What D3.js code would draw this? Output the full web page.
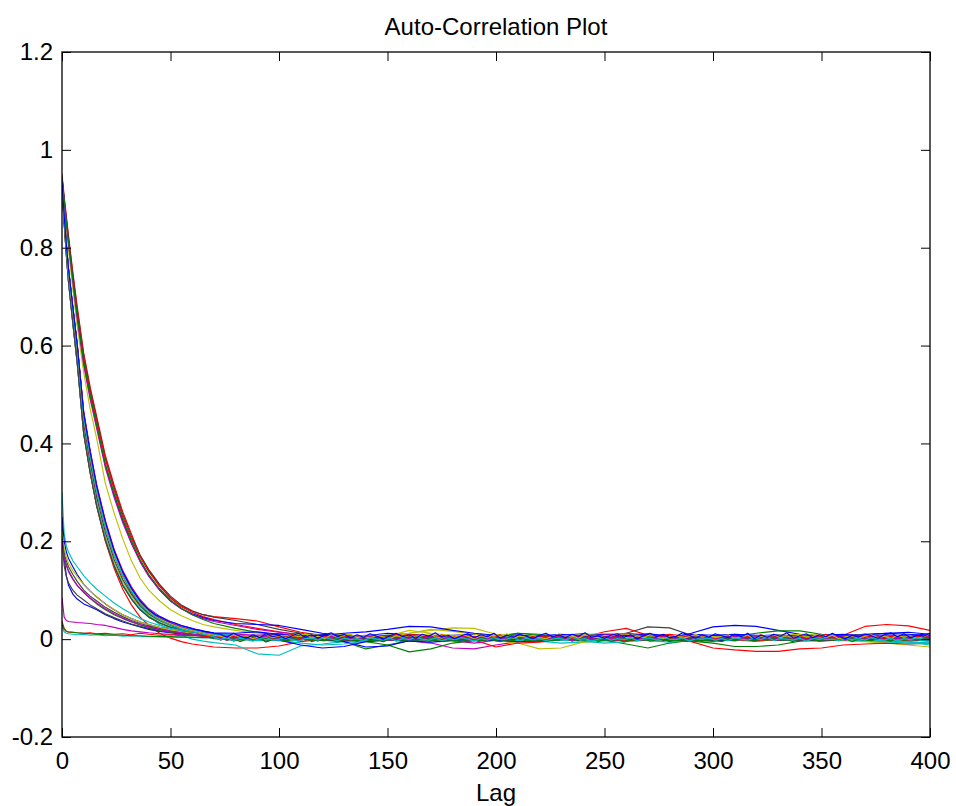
<!DOCTYPE html>
<html>
<head>
<meta charset="utf-8">
<script src="https://cdn.jsdelivr.net/npm/d3@7"></script>
<style>
  body { margin: 0; background: #ffffff; }
  text { font-family: "Liberation Sans", Arial, Helvetica, sans-serif; }
</style>
</head>
<body>
<svg id="chart" width="956" height="806"></svg>
<script>
// ---------------- DATA (values in thousandths of correlation) ----------------
const lags = [0,1,2,3,5,7,10,13,16,20,24,28,32,36,40,45,50,55,60,65,70,
  80,90,100,110,120,130,140,150,160,170,180,190,200,210,220,230,240,250,260,270,280,290,300,310,320,330,340,350,360,370,380,390,400];

// finer lag grid used by the noisy chains in the central band
const fineLags = [0,1,2,3,5,7,10,13,16,20,24,28,32,36,
  40,43,46,49,52,55,58,61,64,67,70,
  73,76,79,82,85,88,91,94,97,100,103,106,109,112,115,118,121,124,127,130,
  133,136,139,142,145,148,151,154,157,160,163,166,169,172,175,178,181,184,187,190,
  193,196,199,202,205,208,211,214,217,220,223,226,229,232,235,238,241,244,247,250,
  253,256,259,262,265,268,271,274,277,280,283,286,289,292,295,298,301,304,307,310,
  313,316,319,322,325,328,331,334,337,340,343,346,349,352,355,358,361,364,367,370,
  373,376,379,382,385,388,391,394,397,400];

const xTickValues = [0,50,100,150,200,250,300,350,400];
const xTickLabels = ["0","50","100","150","200","250","300","350","400"];
const yTickValues = [-0.2,0,0.2,0.4,0.6,0.8,1,1.2];
const yTickLabels = ["-0.2","0","0.2","0.4","0.6","0.8","1","1.2"];

// slowly decaying chains
const slowSeries = [
  [950,905,865,825,750,680,585,515,455,375,315,260,215,170,140,110,85,68,57,50,46, 42,37,25,14,8,5,3,6,8,5,2,0,-2,1,4,6,3,0,-3,-1,2,5,3,-2,-4,-1,2,5,8,26,30,27,18],
  [945,900,860,820,745,675,580,510,450,370,310,255,210,172,142,112,88,70,58,50,45, 38,30,20,12,8,6,4,3,5,7,6,4,2,0,1,3,5,8,12,25,23,8,3,1,0,2,4,5,6,4,3,5,4],
  [940,895,855,815,740,670,575,505,445,368,305,250,205,168,138,108,84,66,55,46,40, 30,22,15,8,4,2,0,-2,0,3,5,2,-3,-5,-2,1,3,15,22,8,4,2,-1,-3,0,2,4,6,5,3,1,0,2],
  [945,895,850,810,735,660,565,495,435,355,295,242,198,160,130,100,78,62,52,44,38, 32,30,28,20,12,8,6,8,10,7,5,3,6,4,2,5,8,10,6,3,1,12,25,28,26,18,10,6,8,10,7,5,8],
  [935,885,840,795,715,640,545,470,410,318,258,205,160,125,100,78,60,48,38,30,25, 18,12,8,5,3,2,5,8,12,18,23,22,10,5,2,0,-3,-1,2,4,3,1,-2,0,3,5,2,0,-3,-5,-8,-12,-16],
  [940,890,848,808,730,655,560,490,430,350,290,238,195,158,128,100,78,62,50,42,36, 28,20,14,10,6,4,2,0,-3,-8,-18,-20,-12,-5,0,3,5,8,6,4,2,0,-2,-1,2,4,3,1,0,2,4,6,4],
  [942,895,852,812,735,660,567,497,437,358,298,245,200,162,132,103,80,63,50,40,32, 22,14,8,4,0,-3,-5,-12,-26,-20,-8,-3,0,2,4,3,0,-3,-2,1,3,0,2,6,12,17,17,10,5,2,0,-2,0]
];
const slowColors = ["r","k","r","b","y","m","g"];

// main bundle
const bulkSeries = [
  [930,862,802,752,672,597,455,375,305,232,175,132,100,75,57,42,31,24,18,12,8, 5,8,3,6,10,4,7,12,9,5,8,10,6,9,4,8,11,7,5,9,6,10,8,4,7,9,5,8,10,6,9,7,11],
  [925,850,785,730,645,565,420,340,272,202,150,110,82,60,45,33,24,18,12,8,5, 2,0,-3,-1,2,-5,-20,-12,-3,-1,2,0,-2,-1,-3,0,2,-2,-10,-18,-8,-2,0,1,3,0,-2,-4,-1,2,0,3,1],
  [925,850,785,730,645,565,420,340,272,200,145,102,70,45,28,12,2,-5,-10,-13,-16, -18,-18,-14,-5,0,3,5,2,-1,0,3,-1,-2,-5,-3,0,2,-1,1,4,2,-5,-18,-22,-25,-25,-20,-18,-12,-10,-8,-10,-8],
  [930,865,805,755,675,600,458,378,308,235,176,130,95,68,48,30,18,8,0,-4,-7, -12,-30,-33,-14,-10,-5,-2,0,3,1,-2,0,2,-1,-4,-8,-6,-2,0,-3,-6,-2,0,2,4,1,-2,0,3,1,-4,-10,-8],
  [932,864,805,755,676,600,460,380,310,236,178,135,102,77,59,44,32,24,18,13,9, 6,4,8,3,0,5,8,4,2,6,3,1,4,2,-2,0,3,6,10,8,4,2,0,3,5,2,-1,2,4,6,3,1,4],
  [928,852,788,735,650,570,428,348,280,210,158,118,88,66,50,37,27,20,15,11,7, 3,8,5,2,6,10,4,6,18,12,8,4,-3,-8,-20,-18,-6,-4,0,3,6,4,2,0,-3,-2,1,3,5,2,0,-2,-4],
  [930,860,800,750,670,595,452,372,302,230,173,130,98,73,55,40,29,22,16,11,6, 2,4,1,-1,3,5,2,0,2,4,1,3,0,-2,1,3,5,2,0,3,2,-1,1,3,0,-2,1,4,2,0,3,1,2],
  [932,864,805,755,676,600,460,380,310,236,178,135,102,77,59,44,33,25,19,14,10, 8,5,10,4,-2,-5,-16,-14,-3,2,5,3,0,4,2,6,3,1,5,8,6,2,0,3,5,2,0,4,7,10,12,14,10],
  [930,863,803,753,673,598,456,376,306,233,176,133,101,76,58,43,32,24,17,11,6, 4,2,6,3,0,2,5,8,4,2,0,3,6,12,10,4,2,0,3,1,-2,-4,-8,-15,-15,-12,-4,-2,0,3,5,4,2],
  [930,862,802,752,672,597,455,375,305,232,175,132,100,75,57,42,31,24,17,10,5, 3,6,2,8,5,1,4,7,10,6,3,-2,-16,-8,-6,0,3,6,8,5,10,4,2,-1,3,5,2,-2,0,4,6,3,1],
  [926,851,786,732,648,568,424,344,276,206,152,112,84,62,47,34,25,19,14,9,4, 0,-3,-2,-8,-12,-10,-4,-2,1,3,0,-2,2,4,1,-1,-4,-8,-5,-2,0,2,-1,-3,0,3,5,2,-1,-3,-5,-4,-10],
  [933,866,807,758,680,604,466,386,316,242,184,140,107,81,62,47,36,28,22,16,12, 10,8,12,6,3,5,2,-1,3,6,-3,-8,-2,2,5,3,6,8,12,9,5,3,6,8,4,2,5,3,1,4,6,8,5],
  [931,863,803,753,673,598,457,377,307,234,177,134,102,77,59,44,33,25,19,13,8, 5,2,7,10,8,4,6,3,12,20,16,10,5,3,1,4,7,5,2,0,3,6,4,2,5,8,6,3,7,9,5,2,0],
  [925,850,785,730,645,565,420,340,272,202,150,110,82,60,45,33,24,18,12,6,1, -2,0,3,1,-3,-1,2,0,-2,1,3,0,-3,-1,2,4,1,-2,0,2,-1,-3,0,2,4,1,-1,-3,0,2,1,-1,0],
  [930,862,802,752,672,597,455,375,305,232,175,132,100,75,57,42,33,26,21,16,13, 12,15,10,6,8,12,15,20,26,25,18,12,8,5,7,10,6,4,8,11,7,5,8,10,8,6,9,8,6,9,12,10,7],
  [931,863,804,754,674,599,458,378,308,235,178,135,103,78,60,45,34,26,20,13,8, 6,3,0,2,5,3,-1,2,4,1,-2,0,3,5,2,-1,-3,0,2,4,1,-2,0,3,6,4,1,0,2,-2,-5,-8,-6]
];
const bulkColors = ["b","g","r","c","m","y","k","b","g","r","c","m","y","k","b","c"];

// chains starting low
const lowSeries = [
  [300,215,190,178,160,148,130,115,102,88,74,62,52,42,35,28,22,18,14,12,10, 8,6,4,2,-1,0,3,1,-2,0,2,-1,1,3,0,-2,-1,1,3,2,0,-2,1,3,2,0,-1,1,3,0,-2,-6,-12],
  [250,200,178,165,148,132,112,98,86,72,60,50,42,35,30,24,19,15,12,10,8, 6,4,2,5,8,6,3,1,4,7,5,2,0,3,6,4,2,5,8,5,3,1,4,6,3,0,2,5,7,4,2,5,3],
  [230,165,130,110,92,82,72,66,60,50,42,35,30,25,20,16,13,10,8,6,5, 3,1,-2,-12,-18,-15,-5,-2,-4,-6,-3,0,-2,-5,-3,0,2,-1,-3,0,2,-2,-4,-1,1,-2,0,3,1,-1,2,0,-2],
  [215,175,160,148,132,118,100,88,78,65,55,46,38,32,27,22,17,14,11,9,7, 5,3,1,4,2,0,3,1,-1,2,4,1,0,-2,1,3,0,-1,2,4,2,0,3,1,-1,2,0,3,5,2,0,1,3],
  [205,150,128,115,100,90,80,70,62,52,44,37,31,26,22,17,14,11,9,7,6, 4,1,-1,2,0,-3,-1,2,0,-2,1,3,0,-2,-4,-1,1,-1,-3,0,2,0,-2,1,3,0,-2,-1,1,3,0,-2,1],
  [220,185,168,155,140,128,112,98,86,72,60,50,42,35,30,24,19,15,12,10,8, 6,3,8,5,2,4,7,3,5,9,6,4,8,5,3,6,9,12,10,6,4,7,5,3,6,8,10,8,5,3,6,4,2],
  [210,170,152,140,124,110,95,83,72,60,50,42,35,29,24,19,15,12,10,8,6, 4,6,2,-1,3,5,1,-2,0,4,2,-1,3,12,8,3,1,-2,0,4,2,0,3,1,-2,0,3,5,2,-1,1,3,0],
  [200,165,150,138,122,110,96,84,74,62,52,43,36,30,25,20,16,13,10,8,7, 5,2,0,3,6,4,1,-2,0,3,5,2,-1,1,4,2,-1,3,5,8,4,2,0,3,1,-2,0,4,6,3,1,-1,2]
];
const lowColors = ["c","b","b","k","k","y","g","m"];

// chains that are nearly uncorrelated from the start
const flatSeries = [
  [85,45,38,36,35,34,33,32,30,28,24,20,17,15,13,11,10,9,8,7,6, 3,1,4,2,0,3,5,2,-1,1,4,6,3,0,2,5,3,1,4,2,-1,1,3,5,2,0,-2,1,3,6,4,2,5],
  [36,22,16,14,14,13,12,13,11,12,10,11,9,12,10,8,9,7,8,6,5, 2,4,1,-1,2,0,3,5,2,-1,1,3,0,-2,1,4,2,0,-3,-1,2,4,1,-1,-3,0,2,-1,1,3,0,-2,1],
  [25,15,12,11,10,9,10,8,9,7,8,6,7,6,5,5,4,4,3,3,3, 2,0,-2,1,3,0,-1,2,4,1,-1,2,0,-3,-1,2,0,-2,1,3,0,-2,1,3,5,2,0,-1,1,3,0,-1,-4],
  [30,20,16,15,14,13,12,11,10,9,9,8,7,7,6,5,5,4,4,3,3, 3,1,4,2,-1,1,3,5,2,0,-2,1,3,0,2,4,1,-1,2,0,-2,-4,-1,1,3,0,2,4,1,-1,2,4,2]
];
const flatColors = ["m","r","c","g"];

// noisy chains forming the dense band (on fineLags)
const noisySeries = [
  [928,856,795,743,662,585,440,360,290,218,163,122,92,68,
   52,43,36,31,25,21,17,14,11,8,6,
   -2,3,-4,1,5,-1,2,-5,0,4, -3,2,6,-2,1,-4,3,0,-1,5, 1,-3,4,-1,2,-5,0,3,-2,4, -1,5,0,-3,2,-2,4,1,-4,2,
   3,-2,1,5,-3,0,4,-1,2,-4, 0,3,-2,4,1,-3,5,-1,2,0, -4,2,6,-1,3,-2,0,4,-3,1, 5,-2,2,0,-4,3,1,-1,4,-2,
   0,5,-3,2,-1,4,-2,1,3,-4, 2,0,4,-2,1,-3,5,0,-1,3, -2,4,1,-3,2,0,5,-1,3,1],
  [931,864,804,754,674,599,458,378,308,236,178,134,101,76,
   58,47,40,33,28,23,19,15,12,9,6,
   3,-2,1,-5,0,-3,2,-6,-1,1, -4,0,-2,3,-5,-1,-3,1,-6,-2, 0,-4,2,-3,-1,-5,1,-2,-4,0, -2,2,-5,-1,-3,1,-4,0,-6,-1,
   -3,1,-2,-5,0,-3,2,-4,-1,-2, 1,-3,-1,2,-4,0,-2,3,-5,-1, -2,0,-6,-1,-3,1,-4,-2,0,-5, -1,2,-3,0,-4,1,-2,-5,0,-3,
   2,-1,-4,0,-2,3,-3,-1,-5,1, -2,0,-4,2,-1,-3,1,-5,0,-2, -3,1,-1,-4,2,-2,0,-3,1,-1],
  [929,858,798,748,667,592,450,370,300,228,171,129,97,72,
   55,46,38,32,27,22,18,15,12,9,7,
   5,1,7,3,8,0,4,9,2,6, 3,10,1,5,8,2,6,0,7,4, 9,2,5,1,8,3,6,10,2,5, 0,4,7,2,9,3,6,1,8,4,
   2,7,3,9,1,5,8,0,6,3, 7,2,10,4,1,6,3,8,2,5, 9,3,6,0,4,8,2,7,4,1, 6,3,9,2,5,7,1,4,8,3,
   0,6,2,9,4,7,1,5,3,8, 2,6,4,10,1,5,3,7,2,6, 4,8,1,6,3,9,2,5,7,3],
  [932,865,806,756,677,602,462,383,313,240,182,138,105,79,
   60,49,42,35,30,25,20,16,13,10,7,
   2,-2,4,0,5,-1,3,6,-2,1, 4,0,-3,3,1,6,-1,2,5,-2, 1,4,-1,3,7,0,2,-2,5,1, 3,-1,6,2,-2,4,0,5,1,-1,
   5,2,-1,3,0,6,-2,4,2,0, -1,3,5,1,-3,2,4,0,6,1, 2,-2,4,1,5,-1,3,0,2,6, 0,4,-2,3,1,5,-1,2,4,0,
   3,-1,5,2,0,4,-2,6,1,3, -1,2,4,0,5,1,-2,3,6,0, 2,5,-1,3,1,4,0,-2,3,5],
  [930,861,801,751,671,596,454,374,304,231,174,131,99,74,
   56,46,39,33,28,23,19,16,13,10,8,
   6,2,9,4,7,1,5,10,3,7, 2,8,5,11,3,6,1,9,4,7, 10,3,6,2,8,5,1,7,4,9, 3,7,12,5,2,8,4,10,6,1,
   7,3,9,5,11,2,6,4,8,3, 1,6,10,4,7,2,9,5,3,8, 6,11,4,2,7,3,9,5,1,6, 8,2,5,10,4,7,3,6,9,2,
   5,8,1,6,4,10,3,7,2,9, 4,6,11,3,8,1,5,7,2,6, 9,3,6,1,8,4,7,2,5,10],
  [929,859,799,749,669,594,452,372,302,229,172,130,98,73,
   54,45,37,31,26,21,17,14,11,8,5,
   -1,3,-3,2,0,-4,1,4,-2,0, 3,-1,-4,1,2,-2,4,0,-3,2, -1,1,-3,3,0,-2,2,-4,1,-1, 4,0,-2,2,-3,1,-1,3,0,-4,
   1,-2,3,-1,0,4,-3,2,-1,1, -3,0,2,-2,4,-1,1,-4,0,3, -2,1,-1,3,-3,0,2,-2,4,0, -1,3,-4,1,0,2,-2,1,-3,3,
   0,-2,2,-1,4,-3,1,0,-2,2, -4,1,3,-1,0,-3,2,-1,1,-2, 3,0,-2,2,-4,1,-1,3,0,-1],
  [933,866,806,757,678,603,462,382,312,239,181,137,104,78,
   60,50,44,37,33,28,24,20,18,15,12,
   10,4,12,6,2,9,3,11,5,8, 1,7,12,4,9,2,8,13,5,10, 3,9,4,11,6,0,7,12,5,9, 2,10,6,13,4,8,1,7,11,3,
   9,5,12,2,8,4,10,6,1,8, 12,5,9,3,10,6,13,4,7,2, 8,11,4,9,1,7,12,5,10,3, 6,13,8,2,9,4,11,7,3,10,
   5,12,1,8,4,10,6,13,2,7, 11,3,9,5,12,6,1,8,4,10, 7,2,9,13,5,11,3,8,6,12]
];
const noisyColors = ["k","g","r","m","y","c","b"];

// ---------------- STYLE ----------------
const palette = { b: "#0000ff", g: "#008000", r: "#ff0000", c: "#00bfbf", m: "#bf00bf", y: "#bfbf00", k: "#404040" };

const svg = d3.select("#chart");
const plot = { left: 62, right: 930, top: 52, bottom: 737 };

const x = d3.scaleLinear().domain([0, 400]).range([plot.left, plot.right]);
const y = d3.scaleLinear().domain([-0.2, 1.2]).range([plot.bottom, plot.top]);

svg.append("rect").attr("width", 956).attr("height", 806).attr("fill", "#ffffff");

svg.append("defs").append("clipPath").attr("id", "clip")
  .append("rect")
  .attr("x", plot.left).attr("y", plot.top)
  .attr("width", plot.right - plot.left).attr("height", plot.bottom - plot.top);

const lineOn = grid => d3.line()
  .x((d, i) => x(grid[i]))
  .y(d => y(d / 1000));

const groups = [
  [slowSeries, slowColors, lags],
  [bulkSeries, bulkColors, lags],
  [lowSeries, lowColors, lags],
  [flatSeries, flatColors, lags],
  [noisySeries, noisyColors, fineLags]
];

const linesG = svg.append("g").attr("clip-path", "url(#clip)");
groups.forEach(([set, cols, grid]) => {
  const line = lineOn(grid);
  set.forEach((vals, j) => {
    linesG.append("path")
      .datum(vals)
      .attr("fill", "none")
      .attr("stroke", palette[cols[j]])
      .attr("stroke-width", 1.15)
      .attr("stroke-linejoin", "round")
      .attr("d", line);
  });
});

// ---------------- AXES (MATLAB-like box with inward ticks) ----------------
const tickLen = 9;
const fontSize = "24px";

const xAxisB = svg.append("g").attr("transform", `translate(0,${plot.bottom})`)
  .call(d3.axisBottom(x).tickValues(xTickValues).tickFormat((d, i) => xTickLabels[i])
    .tickSizeInner(-tickLen).tickSizeOuter(0).tickPadding(15));
const xAxisT = svg.append("g").attr("transform", `translate(0,${plot.top})`)
  .call(d3.axisTop(x).tickValues(xTickValues).tickFormat("")
    .tickSizeInner(-tickLen).tickSizeOuter(0));
const yAxisL = svg.append("g").attr("transform", `translate(${plot.left},0)`)
  .call(d3.axisLeft(y).tickValues(yTickValues).tickFormat((d, i) => yTickLabels[i])
    .tickSizeInner(-tickLen).tickSizeOuter(0).tickPadding(9));
const yAxisR = svg.append("g").attr("transform", `translate(${plot.right},0)`)
  .call(d3.axisRight(y).tickValues(yTickValues).tickFormat("")
    .tickSizeInner(-tickLen).tickSizeOuter(0));

[xAxisB, xAxisT, yAxisL, yAxisR].forEach(g => {
  g.select(".domain").remove();
  g.selectAll(".tick line").attr("stroke", "#000000").attr("stroke-width", 1);
  g.selectAll("text")
    .attr("fill", "#000000")
    .style("font-size", fontSize)
    .style("font-family", '"Liberation Sans", Arial, Helvetica, sans-serif');
});

svg.append("rect")
  .attr("x", plot.left).attr("y", plot.top)
  .attr("width", plot.right - plot.left).attr("height", plot.bottom - plot.top)
  .attr("fill", "none").attr("stroke", "#000000").attr("stroke-width", 1.3);

// ---------------- LABELS ----------------
svg.append("text")
  .attr("x", (plot.left + plot.right) / 2).attr("y", 35)
  .attr("text-anchor", "middle")
  .style("font-size", fontSize)
  .text("Auto-Correlation Plot");

svg.append("text")
  .attr("x", (plot.left + plot.right) / 2).attr("y", 801)
  .attr("text-anchor", "middle")
  .style("font-size", fontSize)
  .text("Lag");
</script>
</body>
</html>
